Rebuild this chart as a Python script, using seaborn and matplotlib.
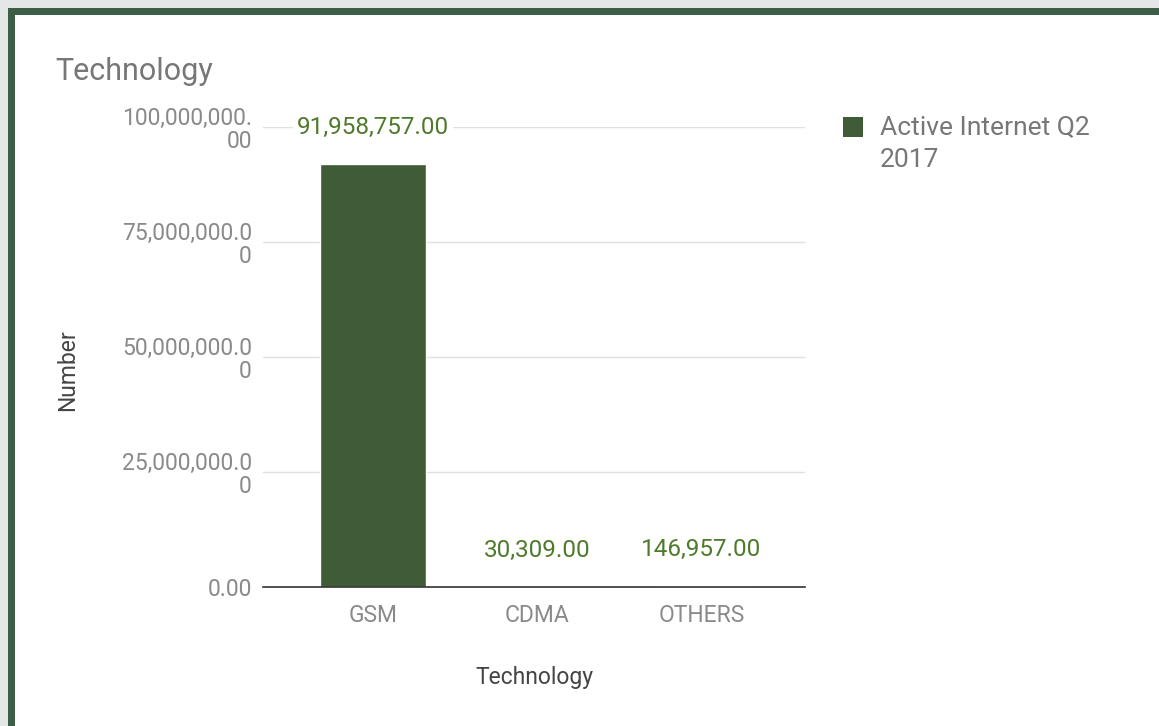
import matplotlib
matplotlib.use("Agg")
import matplotlib.pyplot as plt
import matplotlib.patches as mpatches
import pandas as pd
import seaborn as sns

# %% Data
categories = ["GSM", "CDMA", "OTHERS"]
values = [91958757, 30309, 146957]
series_name = "Active Internet Q2\n2017"
y_ticks = [0, 25000000, 50000000, 75000000, 100000000]
y_tick_labels = ["0.00", "25,000,000.0\n0", "50,000,000.0\n0", "75,000,000.0\n0", "100,000,000.\n00"]

BAR_COLOR = "#3f5c36"
LABEL_GREEN = "#4f7a2c"
GREY_TEXT = "#777777"
TICK_GREY = "#8a8a8a"
DARK_TEXT = "#444444"

df = pd.DataFrame({"Technology": categories, "Number": values})

# %% Figure
sns.set_theme(style="white")
plt.rcParams["font.family"] = ["Roboto", "DejaVu Sans"]

W, H = 1159, 726
fig = plt.figure(figsize=(W / 100, H / 100), dpi=100, facecolor="white")


def px_rect(x0, y0, x1, y1, color, z=0):
    # rectangle given in pixel coords measured from the top-left corner
    fig.patches.append(mpatches.Rectangle(
        (x0 / W, 1 - y1 / H), (x1 - x0) / W, (y1 - y0) / H,
        transform=fig.transFigure, facecolor=color, edgecolor="none", zorder=z))


# frame: light grey margin + dark green border on top/left
px_rect(0, 0, W, 8, "#e5e6e7")
px_rect(0, 0, 8, H, "#e5e6e7")
px_rect(8, 8, W, 15, "#3d5d45")
px_rect(8, 8, 15, H, "#3d5d45")

ax = fig.add_axes([263 / W, 1 - 587 / H, (805 - 263) / W, (587 - 127) / H])
sns.barplot(data=df, x="Technology", y="Number", order=categories,
            color=BAR_COLOR, saturation=1, width=0.64, ax=ax, zorder=3)

ax.set_xlim(-0.67, 2.63)
ax.set_ylim(0, 100000000)
ax.set_yticks(y_ticks)
ax.set_yticklabels(y_tick_labels)
for t in ax.get_yticklabels():
    t.set_linespacing(1.05)
ax.tick_params(axis="y", length=0, pad=8, labelsize=16.5, labelcolor=TICK_GREY)
ax.tick_params(axis="x", length=0, pad=12, labelsize=16.5, labelcolor=TICK_GREY)

ax.grid(axis="y", color="#e0e0e0", linewidth=1.0, zorder=0)
ax.grid(axis="x", visible=False)
for side in ["left", "right", "top"]:
    ax.spines[side].set_visible(False)
ax.spines["bottom"].set_color("#333333")
ax.spines["bottom"].set_linewidth(1.2)
ax.spines["bottom"].set_zorder(5)

ax.set_xlabel("Technology", fontsize=16.5, color=DARK_TEXT, labelpad=28)
ax.set_ylabel("Number", fontsize=16.5, color=DARK_TEXT, labelpad=0)
ax.yaxis.set_label_coords((79 - 263) / (805 - 263), (587 - 370) / (587 - 127))

# value labels
for i, v in enumerate(values):
    ax.annotate(f"{v:,.2f}", xy=(i, v), xytext=(0, 26.5), textcoords="offset points",
                ha="center", va="center", fontsize=17.5, color=LABEL_GREEN, zorder=6,
                bbox=dict(boxstyle="square,pad=0.15", facecolor="white", edgecolor="none"))

# title
fig.text(55 / W, 1 - 72 / H, "Technology", fontsize=22, color=GREY_TEXT,
         ha="left", va="center")

# legend (swatch + wrapped label, aligned to the first line like the original)
px_rect(843, 117, 863, 137, BAR_COLOR, z=2)
fig.text(880 / W, 1 - 127 / H, series_name.split("\n")[0], fontsize=19,
         color=GREY_TEXT, ha="left", va="center")
fig.text(880 / W, 1 - 160 / H, series_name.split("\n")[1], fontsize=19,
         color=GREY_TEXT, ha="left", va="center")

fig.savefig("out.png", dpi=100, facecolor="white")
